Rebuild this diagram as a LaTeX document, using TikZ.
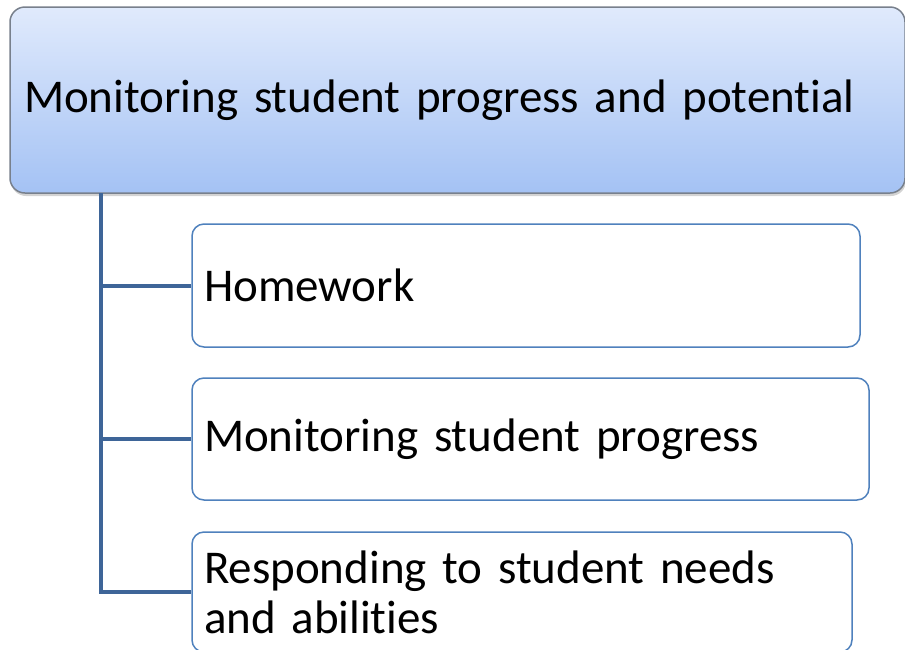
\documentclass[tikz,border=0pt]{standalone}
\usepackage{fontspec}
\setmainfont{Carlito}[Ligatures=NoCommon]
\usepackage{tikz}
\usetikzlibrary{shadows}
\definecolor{headtop}{RGB}{224,234,252}
\definecolor{headbot}{RGB}{164,194,244}
\definecolor{headline}{RGB}{120,128,140}
\definecolor{boxline}{RGB}{79,129,189}
\definecolor{stemline}{RGB}{62,101,152}

\begin{document}
\begin{tikzpicture}[x=1pt,y=-1pt,font=\fontsize{47}{50}\selectfont,
                    line width=1.5pt]
\tikzstyle{head}=[draw=headline,rounded corners=15pt,top color=headtop,
                  bottom color=headbot,align=left,inner xsep=14pt,
                  drop shadow={shadow xshift=1pt,shadow yshift=-3pt,opacity=0.35}]
\tikzstyle{item}=[draw=boxline,fill=white,rounded corners=12pt,align=left,
                  inner xsep=12pt]
\tikzstyle{link}=[draw=stemline,line width=4pt]
\useasboundingbox (0,0) rectangle (905,649);
\clip (0,0) rectangle (905,649);
\node[head,minimum width=895pt,minimum height=186pt,text width=867pt] (top)
      at (457.5,100) {Monitoring student progress and potential};
\node[item,minimum width=668pt,minimum height=123pt,text width=644pt] (hw)
      at (526,285.5) {Homework};
\node[item,minimum width=677pt,minimum height=122pt,text width=653pt] (mon)
      at (530.5,439) {Monitoring student progress};
\node[item,minimum width=660pt,minimum height=120pt,text width=636pt] (resp)
      at (522,592) {Responding to student needs\\and abilities};
\coordinate (stem) at (101,193);
\path[link] (stem) |- (hw.west)
            (stem) |- (mon.west)
            (stem) |- (resp.west);
\end{tikzpicture}
\end{document}
